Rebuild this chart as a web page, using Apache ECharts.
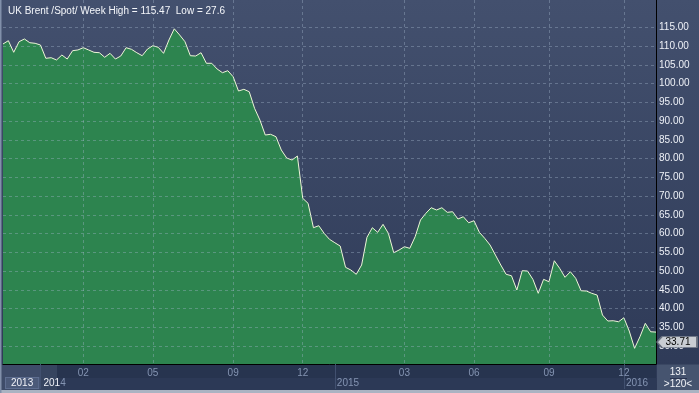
<!DOCTYPE html>
<html><head><meta charset="utf-8">
<script src="https://cdn.jsdelivr.net/npm/echarts@6/dist/echarts.min.js"></script>
<style>html,body{margin:0;padding:0;background:#333f5c}#c{width:699px;height:393px}</style>
</head><body><div id="c"></div>
<script>
// ---- data (weekly closes, USD) ----
const prices = [
110.55,111.43,108.33,111.16,111.88,110.89,110.73,110.28,106.73,106.89,
106.28,107.61,106.54,108.76,108.95,109.56,108.95,108.33,108.22,107.00,
108.06,106.54,107.34,109.56,109.13,108.22,107.42,109.21,110.09,109.67,
108.06,111.61,114.60,112.95,111.16,107.42,107.34,108.22,105.40,105.40,
103.88,102.89,103.42,101.82,98.01,98.46,97.82,93.39,90.27,86.27,
86.46,85.82,82.27,80.14,79.60,80.67,69.39,68.05,61.55,62.08,
60.05,58.45,57.54,56.66,50.98,50.26,49.12,51.60,58.99,61.55,
60.32,62.45,60.05,54.88,55.60,56.48,56.05,59.14,63.60,65.39,
66.88,66.27,66.88,65.65,65.81,63.87,64.48,62.88,63.41,60.32,
58.72,56.93,54.26,51.60,49.12,48.74,44.93,50.08,50.00,47.78,
44.05,47.78,47.14,52.74,50.72,48.32,49.81,48.05,44.74,44.66,
44.05,43.59,38.26,36.66,36.74,36.47,37.54,33.99,29.38,32.47,
36.05,33.80,33.71
];
const weeks = prices.map((_, i) => 'w' + i);
const monthTickIndex = [15, 28, 43, 56, 75, 88, 102, 116];
const monthTickLabels = ['02', '05', '09', '12', '03', '06', '09', '12'];
const yearIndex = [0, 7, 62, 116];
const yearLabels = ['2013', '2014', '2015', '2016'];
const yTicks = [30,35,40,45,50,55,60,65,70,75,80,85,90,95,100,105,110,115];
const titleText = 'UK Brent /Spot/ Week High = 115.47  Low = 27.6';
const lastValue = 33.71;
const countText = '131';
const zoomText = '>120<';

const FONT = '"Liberation Sans", Arial, sans-serif';
const FS = 10;
const monthMap = {}; monthTickIndex.forEach((k, j) => monthMap[k] = monthTickLabels[j]);
const yearMap = {}; yearIndex.forEach((k, j) => yearMap[k] = yearLabels[j]);

const chart = echarts.init(document.getElementById('c'), null, {renderer: 'canvas'});
const gridColor = 'rgba(165,185,205,0.38)';

function yearFmt(v, i) {
  const s = yearMap[i] || '';
  if (i === 0) return '{sp|}{box|' + s + '}';
  if (i === 7) return '{w|' + s.slice(0, 3) + '}{g0|' + s.slice(3) + '}';
  return '{g|' + s + '}';
}

chart.setOption({
  animation: false,
  backgroundColor: {type: 'linear', x: 0, y: 0, x2: 0, y2: 1,
    colorStops: [{offset: 0, color: '#43506e'}, {offset: 1, color: '#2d3956'}]},
  textStyle: {fontFamily: FONT},
  title: {text: titleText, left: 3, top: 1,
    textStyle: {color: '#f4f6fa', fontSize: FS, fontWeight: 'normal', fontFamily: FONT}},
  grid: {left: 3, right: 43, top: 0, bottom: 29, containLabel: false},
  xAxis: [{
    type: 'category', data: weeks, boundaryGap: false, z: 3,
    axisLine: {show: true, lineStyle: {color: '#000', width: 1}},
    axisTick: {show: false},
    axisLabel: {interval: (i) => monthMap[i] !== undefined, formatter: (v, i) => monthMap[i] || '',
      color: '#8494b2', fontSize: FS, margin: 4, fontFamily: FONT},
    splitLine: {show: true, interval: (i) => monthMap[i] !== undefined,
      lineStyle: {color: gridColor, type: [3, 3], width: 1}}
  }, {
    type: 'category', data: weeks, boundaryGap: false, position: 'bottom', z: 3,
    axisLine: {show: false},
    axisTick: {show: true, inside: false, length: 25, interval: (i) => yearMap[i] !== undefined && i > 0,
      lineStyle: {color: '#41506f', width: 1}},
    splitLine: {show: false},
    axisLabel: {interval: (i) => yearMap[i] !== undefined, align: 'left', margin: 14,
      showMinLabel: true, showMaxLabel: true, hideOverlap: false,
      formatter: yearFmt,
      rich: {
        sp: {width: 3, lineHeight: 10},
        box: {color: '#f0f2f8', fontSize: FS, lineHeight: 10, fontFamily: FONT, backgroundColor: '#4b5a79',
          borderColor: '#5e6e90', borderWidth: 1, padding: [0, 5, 0, 5]},
        w: {color: '#f0f2f8', fontSize: FS, lineHeight: 10, fontFamily: FONT, padding: [0, 0, 0, 3]},
        g0: {color: '#8494b2', fontSize: FS, lineHeight: 10, fontFamily: FONT},
        g: {color: '#8494b2', fontSize: FS, lineHeight: 10, fontFamily: FONT, padding: [0, 0, 0, 2]}
      }}
  }],
  yAxis: {
    type: 'value', position: 'right', min: 25.2, max: 122.28, z: 3,
    axisLine: {show: true, lineStyle: {color: '#000', width: 1}},
    axisTick: {show: false, customValues: yTicks},
    axisLabel: {customValues: yTicks, formatter: (v) => v.toFixed(2), color: '#eef1f7',
      fontSize: FS, margin: 3, align: 'left', fontFamily: FONT},
    splitLine: {show: true, lineStyle: {color: gridColor, type: [3, 3], width: 1}}
  },
  graphic: [
    {type: 'rect', z: 0, shape: {x: 0, y: 364.5, width: 656, height: 13.5}, style: {fill: '#27344f'}},
    {type: 'rect', z: 0, shape: {x: 0, y: 378, width: 656, height: 12}, style: {fill: '#2c3956'}},
    {type: 'rect', z: 0, shape: {x: 0, y: 364.5, width: 40, height: 25.5}, style: {fill: '#3e4c69'}},
    {type: 'rect', z: 0, shape: {x: 40, y: 364.5, width: 17, height: 25.5}, style: {fill: '#36445f'}},
    {type: 'rect', z: 0, shape: {x: 657, y: 364.5, width: 42, height: 25.5}, style: {fill: '#46546f'}},
    {type: 'text', z: 4, x: 678, y: 372, style: {text: countText, fill: '#f2f4f8', font: FS + 'px ' + FONT, textAlign: 'center', textVerticalAlign: 'middle'}},
    {type: 'line', z: 4, shape: {x1: 670, y1: 378.5, x2: 687, y2: 378.5}, style: {stroke: '#2a3450', lineWidth: 1}},
    {type: 'text', z: 4, x: 678, y: 384, style: {text: zoomText, fill: '#f2f4f8', font: FS + 'px ' + FONT, textAlign: 'center', textVerticalAlign: 'middle'}},
    {type: 'rect', z: 4, shape: {x: 0, y: 390, width: 699, height: 3}, style: {fill: '#aab3c2'}},
    {type: 'rect', z: 4, shape: {x: 0, y: 0, width: 1.5, height: 393}, style: {fill: '#8190aa'}}
  ],
  series: [{
    type: 'line', data: prices, showSymbol: false, z: 2,
    lineStyle: {color: '#eef6d8', width: 1},
    areaStyle: {color: '#2d844f', opacity: 1},
    markPoint: {
      symbol: 'path://M0,5L5,0L40,0L40,10L5,10Z', symbolSize: [40, 11], symbolKeepAspect: false,
      symbolOffset: [21, 10],
      itemStyle: {color: '#c9cdd3', borderColor: '#6b7280', borderWidth: 1},
      label: {show: true, position: 'inside', color: '#000', fontSize: FS, fontFamily: FONT,
        offset: [1, 0], formatter: (p) => p.value.toFixed(2)},
      data: [{coord: [weeks[weeks.length - 1], lastValue], value: lastValue}]
    }
  }]
});
</script></body></html>
